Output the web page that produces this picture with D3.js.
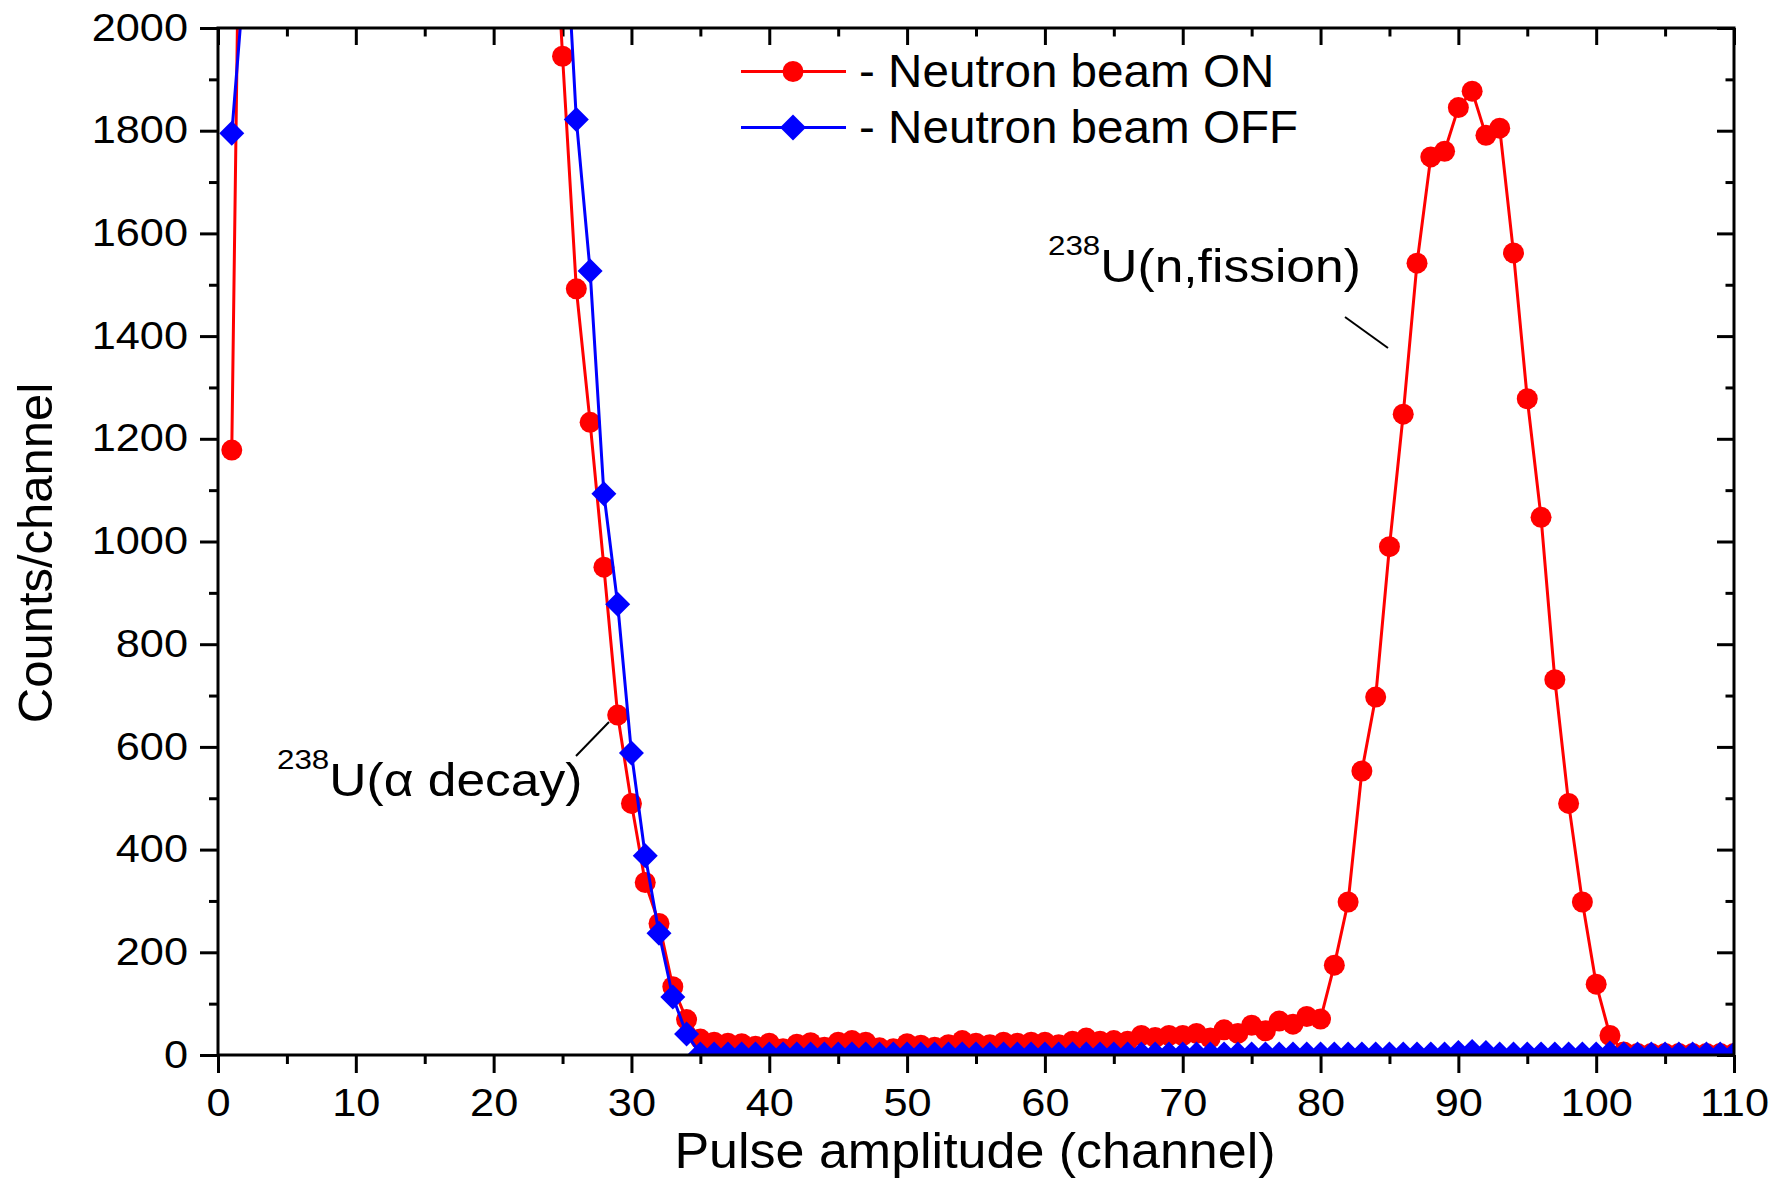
<!DOCTYPE html>
<html>
<head>
<meta charset="utf-8">
<script src="https://cdn.jsdelivr.net/npm/d3@7"></script>
<style>
  html, body { margin: 0; padding: 0; background: #fff; }
  svg { display: block; font-family: "Liberation Sans", Arial, sans-serif; }
</style>
</head>
<body>
<svg id="chart" width="1775" height="1179"></svg>
<script>
// Pulse-height spectra of a 238U fission chamber, channel by channel.
const channels = d3.range(1, 111);

// Neutron beam ON (counts per channel, channels 1..110)
const beamOn = [
  1178, 3200, 5300, 7600, 9400, 10600, 11300, 11700, 11800, 11700,
  11400, 11000, 10500, 9900, 9200, 8400, 7500, 6600, 5700, 4800,
  4000, 3400, 2900, 2450, 1945, 1492, 1232, 950, 662, 490,
  336, 256, 133, 69, 31, 25, 23, 22, 17, 23,
  12, 21, 24, 15, 25, 28, 25, 14, 12, 22,
  19, 15, 20, 28, 23, 20, 25, 23, 25, 25,
  20, 27, 33, 27, 28, 27, 38, 34, 38, 38,
  42, 33, 49, 42, 58, 47, 66, 60, 75, 70,
  175, 298, 553, 697, 990, 1248, 1542, 1749, 1760, 1845,
  1877, 1791, 1805, 1562, 1278, 1047, 731, 490, 298, 138,
  38, 6, 3, 3, 3, 3, 3, 3, 3, 3
];

// Neutron beam OFF (counts per channel, channels 1..110)
const beamOff = [
  1795, 2130, 3900, 6200, 8100, 9500, 10400, 10900, 11100, 11000,
  10800, 10400, 9900, 9300, 8600, 7800, 6900, 6000, 5100, 4300,
  3600, 3100, 2800, 2550, 2310, 1822, 1527, 1093, 878, 588,
  388, 237, 113, 41, 2, 2, 2, 2, 2, 2,
  2, 2, 2, 2, 2, 2, 2, 2, 2, 2,
  2, 2, 2, 2, 2, 2, 2, 2, 2, 2,
  2, 2, 2, 2, 2, 2, 2, 2, 2, 2,
  2, 2, 2, 2, 2, 2, 2, 2, 2, 2,
  2, 2, 2, 2, 2, 2, 2, 2, 2, 5,
  7, 5, 2, 2, 2, 2, 2, 2, 2, 2,
  4, 2, 2, 2, 2, 2, 2, 2, 2, 2
];

const xMajorTicks = d3.range(0, 111, 10);
const xMinorTicks = d3.range(5, 110, 10);
const yMajorTicks = d3.range(0, 2001, 200);
const yMinorTicks = d3.range(100, 2000, 200);

const seriesNames = ["- Neutron beam ON", "- Neutron beam OFF"];
const seriesColors = ["#ff0000", "#0000ff"];

const xTitle = "Pulse amplitude (channel)";
const yTitle = "Counts/channel";

// ---- layout ----
const plotL = 218, plotR = 1734, plotT = 28, plotB = 1055;
const svg = d3.select("#chart");

const x = d3.scaleLinear().domain([0, 110]).range([plotL, plotR]);
const y = d3.scaleLinear().domain([0, 2000]).range([plotB, plotT]);

svg.append("defs").append("clipPath").attr("id", "plotClip")
  .append("rect").attr("x", plotL).attr("y", plotT)
  .attr("width", plotR - plotL).attr("height", plotB - plotT);

// horizontal stretch of a text element about its anchor point
function stretch(sel, s) {
  sel.each(function () {
    const t = d3.select(this);
    const ax = +t.attr("x") || 0, ay = +t.attr("y") || 0;
    t.attr("transform", `translate(${ax},${ay}) scale(${s},1) translate(${-ax},${-ay})`);
  });
}

// ---- axes (ticks outside on bottom/left, mirrored inside on top/right) ----
const tickW = 3;
function styleAxis(g, fontSize) {
  g.select(".domain").remove();
  g.selectAll(".tick line").attr("stroke", "#000").attr("stroke-width", tickW);
  g.selectAll(".tick text").attr("fill", "#000").attr("font-size", fontSize)
    .attr("font-family", "'Liberation Sans', Arial, sans-serif");
}

const xb = svg.append("g").attr("transform", `translate(0,${plotB})`)
  .call(d3.axisBottom(x).tickValues(xMajorTicks).tickFormat(d3.format("d")).tickSize(18).tickPadding(16));
styleAxis(xb, 38);
stretch(xb.selectAll(".tick text"), 1.14);
const xbm = svg.append("g").attr("transform", `translate(0,${plotB})`)
  .call(d3.axisBottom(x).tickValues(xMinorTicks).tickFormat("").tickSize(9));
styleAxis(xbm, 0);

const yl = svg.append("g").attr("transform", `translate(${plotL},0)`)
  .call(d3.axisLeft(y).tickValues(yMajorTicks).tickFormat(d3.format("d")).tickSize(18).tickPadding(12));
styleAxis(yl, 38);
stretch(yl.selectAll(".tick text"), 1.14);
const ylm = svg.append("g").attr("transform", `translate(${plotL},0)`)
  .call(d3.axisLeft(y).tickValues(yMinorTicks).tickFormat("").tickSize(9));
styleAxis(ylm, 0);

const xt = svg.append("g").attr("transform", `translate(0,${plotT})`)
  .call(d3.axisTop(x).tickValues(xMajorTicks).tickFormat("").tickSize(-17));
styleAxis(xt, 0);
const xtm = svg.append("g").attr("transform", `translate(0,${plotT})`)
  .call(d3.axisTop(x).tickValues(xMinorTicks).tickFormat("").tickSize(-8.5));
styleAxis(xtm, 0);

const yr = svg.append("g").attr("transform", `translate(${plotR},0)`)
  .call(d3.axisRight(y).tickValues(yMajorTicks).tickFormat("").tickSize(-17));
styleAxis(yr, 0);
const yrm = svg.append("g").attr("transform", `translate(${plotR},0)`)
  .call(d3.axisRight(y).tickValues(yMinorTicks).tickFormat("").tickSize(-8.5));
styleAxis(yrm, 0);

// ---- series ----
const plot = svg.append("g").attr("clip-path", "url(#plotClip)");
const line = d3.line().x(d => x(d[0])).y(d => y(d[1]));

const diamond = r => `M0,${-r}L${r},0L0,${r}L${-r},0Z`;

function drawSeries(values, color, shape) {
  const pts = channels.map((c, i) => [c, values[i]]);
  plot.append("path").datum(pts)
    .attr("fill", "none").attr("stroke", color).attr("stroke-width", 3)
    .attr("stroke-linejoin", "round").attr("d", line);
  const g = plot.append("g");
  if (shape === "circle") {
    g.selectAll("circle").data(pts).join("circle")
      .attr("cx", d => x(d[0])).attr("cy", d => y(d[1])).attr("r", 10.5)
      .attr("fill", color);
  } else {
    g.selectAll("path").data(pts).join("path")
      .attr("transform", d => `translate(${x(d[0])},${y(d[1])})`)
      .attr("d", diamond(12.5)).attr("fill", color);
  }
}
drawSeries(beamOn, seriesColors[0], "circle");
drawSeries(beamOff, seriesColors[1], "diamond");

// ---- frame ----
svg.append("rect").attr("x", plotL).attr("y", plotT)
  .attr("width", plotR - plotL).attr("height", plotB - plotT)
  .attr("fill", "none").attr("stroke", "#000").attr("stroke-width", 3);

// ---- axis titles ----
svg.append("text").attr("x", 975).attr("y", 1168).attr("text-anchor", "middle")
  .attr("font-size", 50).attr("fill", "#000").text(xTitle)
  .call(stretch, 1.04);
svg.append("text").attr("transform", "translate(52,553) rotate(-90)")
  .attr("text-anchor", "middle").attr("font-size", 49).attr("fill", "#000").text(yTitle);

// ---- legend ----
const legendRows = [71.5, 127.5];
seriesNames.forEach((name, i) => {
  const ly = legendRows[i];
  svg.append("line").attr("x1", 741).attr("x2", 846).attr("y1", ly).attr("y2", ly)
    .attr("stroke", seriesColors[i]).attr("stroke-width", 3);
  if (i === 0) {
    svg.append("circle").attr("cx", 793).attr("cy", ly).attr("r", 10.5).attr("fill", seriesColors[i]);
  } else {
    svg.append("path").attr("transform", `translate(793,${ly})`)
      .attr("d", diamond(13)).attr("fill", seriesColors[i]);
  }
  svg.append("text").attr("x", 859).attr("y", ly + 16).attr("font-size", 46)
    .attr("fill", "#000").text(name)
    .call(stretch, 1.035);
});

// ---- peak annotations ----
function isotopeLabel(x0, baseline, rest) {
  const t = svg.append("text").attr("x", x0).attr("y", baseline).attr("fill", "#000");
  t.append("tspan").attr("font-size", 28).attr("dy", -27).text("238");
  t.append("tspan").attr("font-size", 46).attr("dy", 27).text(rest);
  t.call(stretch, 1.12);
}
isotopeLabel(277, 796, "U(\u03b1 decay)");
svg.append("line").attr("x1", 576).attr("y1", 756).attr("x2", 609).attr("y2", 722)
  .attr("stroke", "#000").attr("stroke-width", 2);

isotopeLabel(1048, 282, "U(n,fission)");
svg.append("line").attr("x1", 1345).attr("y1", 317).attr("x2", 1388).attr("y2", 348)
  .attr("stroke", "#000").attr("stroke-width", 2);
</script>
</body>
</html>
